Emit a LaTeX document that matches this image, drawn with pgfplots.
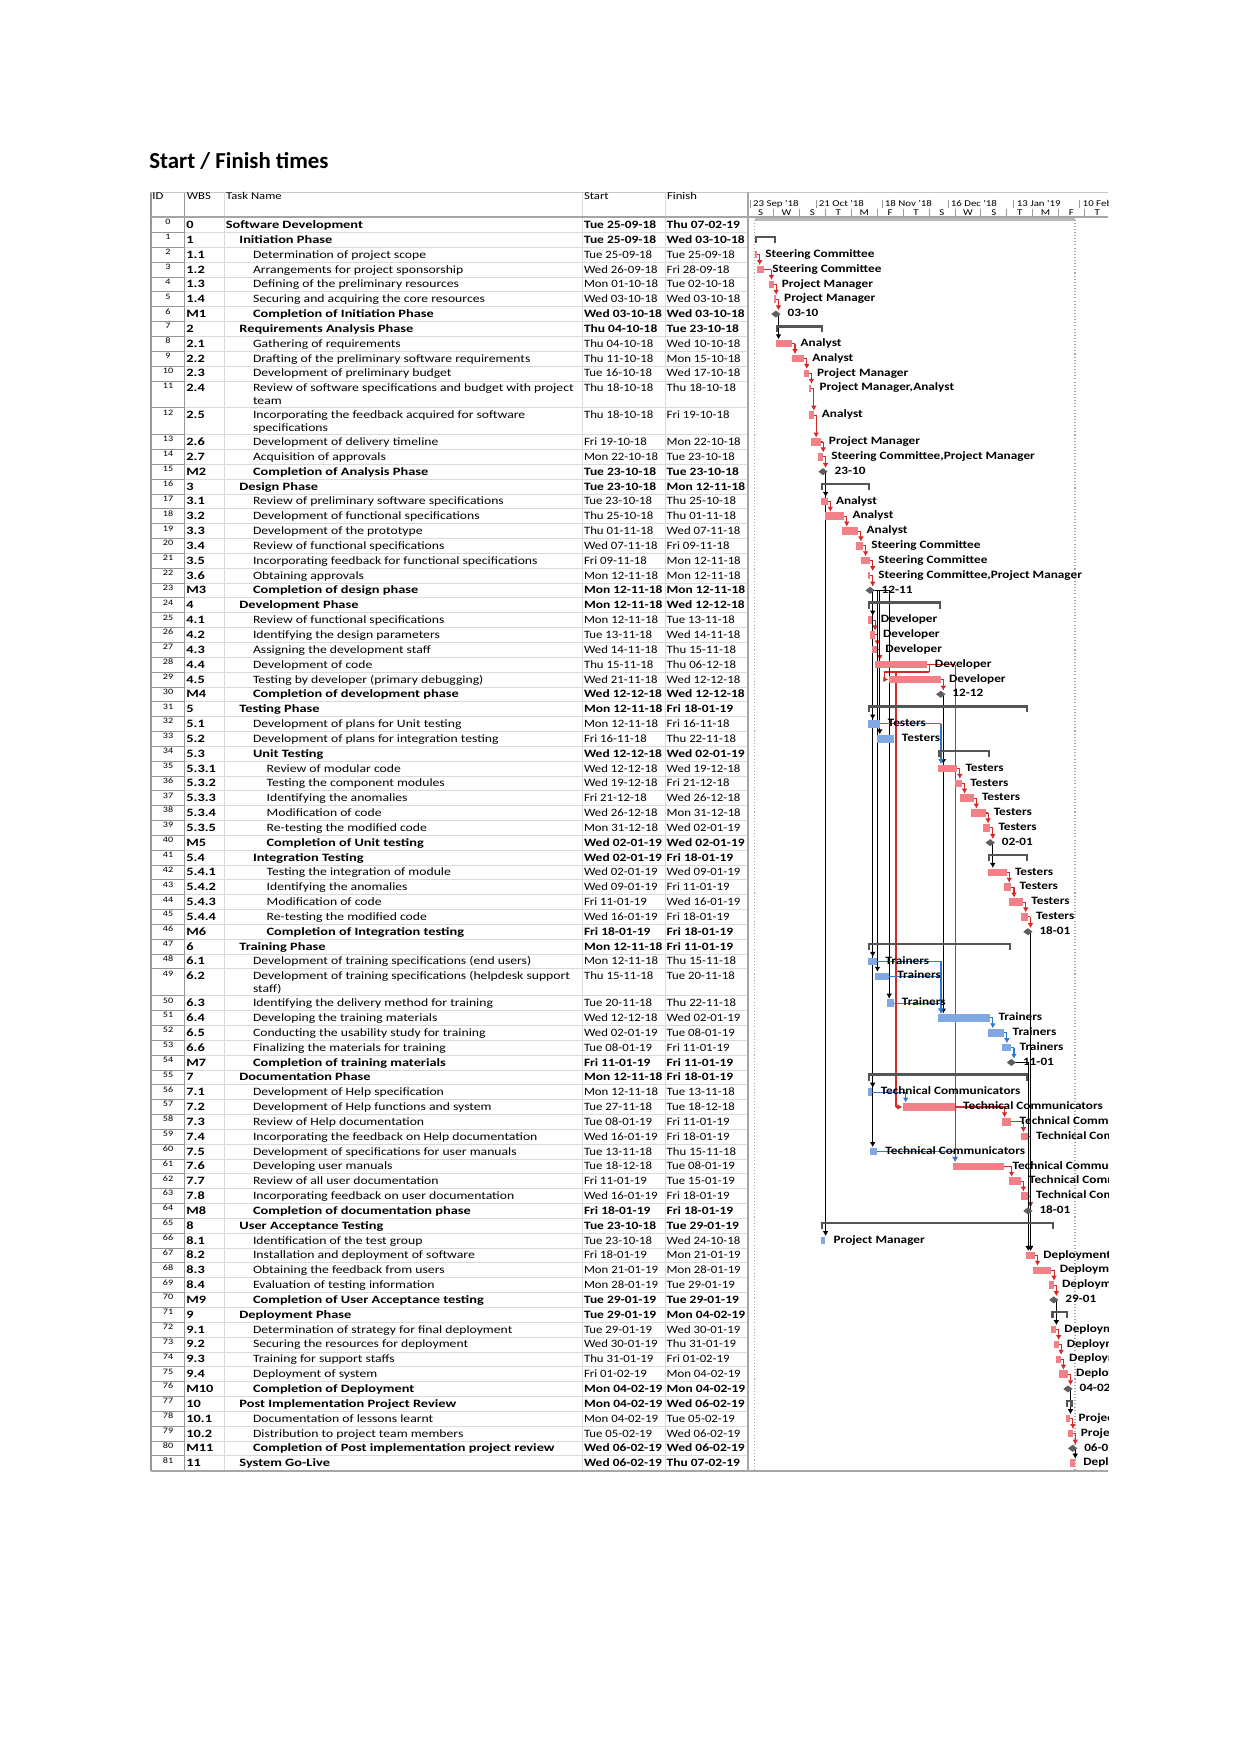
\documentclass[border=0pt]{standalone}
\usepackage{fontspec}
\setmainfont{Carlito}
\newfontfamily\namefont[FakeStretch=1.22]{Carlito}
\newfontfamily\namefontb[FakeStretch=1.28]{Carlito}
\newfontfamily\datefont[FakeStretch=1.14]{Carlito}
\newfontfamily\datefontb[FakeStretch=1.2]{Carlito}
\newfontfamily\barfont[FakeStretch=1.18]{Carlito}
\usepackage{pgfplots}
\usepackage{pgfplotstable}
\pgfplotsset{compat=1.18}
\usetikzlibrary{arrows.meta}

\definecolor{critbar}{RGB}{243,128,134}
\definecolor{normbar}{RGB}{128,168,226}
\definecolor{sumgray}{RGB}{85,85,85}
\definecolor{msgray}{RGB}{95,95,95}
\definecolor{linkred}{RGB}{215,40,40}
\definecolor{linkblue}{RGB}{45,120,210}
\definecolor{gridc}{RGB}{218,218,218}
\definecolor{idgrid}{RGB}{150,150,150}

\newcommand\fnn{\namefont\fontsize{5.4}{6}\selectfont}
\newcommand\fnb{\namefontb\fontsize{5.4}{6}\selectfont\bfseries}
\newcommand\fdn{\datefont\fontsize{5.4}{6}\selectfont}
\newcommand\fdb{\datefontb\fontsize{5.4}{6}\selectfont\bfseries}
\newcommand\fid{\namefont\fontsize{4}{5}\selectfont}
\newcommand\fhd{\namefont\fontsize{5}{6}\selectfont}
\newcommand\fgh{\namefont\fontsize{4.3}{5}\selectfont}
\newcommand\fbar{\barfont\fontsize{5.4}{6}\selectfont\bfseries}

% one table row: pos, id, wbs, level, n/b, name, start, finish
\newcommand\trow[8]{%
  \node[anchor=base, inner sep=0, font=\fid] at (168,{225+14.84*#1}) {#2};
  \node[anchor=base west, inner sep=0, font=\fnb] at (186,{228.6+14.84*#1}) {#3};
  \node[anchor=base west, inner sep=0, font=\csname fn#5\endcsname] at ({225.4+13.6*#4},{228.6+14.84*#1}) {#6};
  \node[anchor=base west, inner sep=0, font=\csname fd#5\endcsname] at (583.6,{228.6+14.84*#1}) {#7};
  \node[anchor=base west, inner sep=0, font=\csname fd#5\endcsname] at (666.3,{228.6+14.84*#1}) {#8};}
\newcommand\tcont[2]{%
  \node[anchor=base west, inner sep=0, font=\fnn] at (252.6,{241.2+14.84*#1}) {#2};}

% day numbers counted from Sun 23-09-18; y = row position
\pgfplotstableread[col sep=semicolon]{
s;f;y;lab
2;2;2;Steering Committee
3;5;3;Steering Committee
8;9;4;Project Manager
10;10;5;Project Manager
11;17;8;Analyst
18;22;9;Analyst
23;24;10;Project Manager
25;25;11;Project Manager,Analyst
25;26;12.81;Analyst
26;29;14.62;Project Manager
29;30;15.62;Steering Committee,Project Manager
30;32;18.62;Analyst
32;39;19.62;Analyst
39;45;20.62;Analyst
45;47;21.62;Steering Committee
47;50;22.62;Steering Committee
50;50;23.62;Steering Committee,Project Manager
50;51;26.62;Developer
51;52;27.62;Developer
52;53;28.62;Developer
53;74;29.62;Developer
59;80;30.62;Developer
80;87;36.62;Testers
87;89;37.62;Testers
89;94;38.62;Testers
94;99;39.62;Testers
99;101;40.62;Testers
101;108;43.62;Testers
108;110;44.62;Testers
110;115;45.62;Testers
115;117;46.62;Testers
65;86;59.43;Technical Communicators
107;110;60.43;Technical Communicators
115;117;61.43;Technical Communicators
86;107;63.43;Technical Communicators
110;114;64.43;Technical Communicators
115;117;65.43;Technical Communicators
117;120;69.43;Deployment Team
120;127;70.43;Deployment Team
127;128;71.43;Deployment Team
128;129;74.43;Deployment Team
129;130;75.43;Deployment Team
130;131;76.43;Deployment Team
131;134;77.43;Deployment Team
134;135;80.43;Project Manager
135;136;81.43;Project Manager
136;137;83.43;Deployment Team
}\crit

\pgfplotstableread[col sep=semicolon]{
s;f;y;lab
50;54;33.62;Testers
54;60;34.62;Testers
50;53;49.62;Trainers
53;58;50.62;Trainers
58;60;52.43;Trainers
80;101;53.43;Trainers
101;107;54.43;Trainers
107;110;55.43;Trainers
50;51;58.43;Technical Communicators
51;53;62.43;Technical Communicators
30;31;68.43;Project Manager
}\noncrit

\pgfplotstableread[col sep=semicolon]{
x;y;lab
11;6;03-10
31;16.62;23-10
51;24.62;12-11
81;31.62;12-12
102;41.62;02-01
118;47.62;18-01
111;56.43;11-01
118;66.43;18-01
129;72.43;29-01
135;78.43;04-02
137;82.43;06-02
}\mile

\pgfplotstableread{
s e y
2 11 1
11 31 7
30 51 17.62
50 81 25.62
50 118 32.62
80 102 35.62
101 118 42.62
50 111 48.62
50 118 57.43
30 129 67.43
128 135 73.43
134 137 79.43
}\summ

\pgfplotstableread{
s e y
2 138 -0.37
}\proj

% links: end of predecessor, its row, start of successor, arrow tip row
\pgfplotstableread{
x0 y0 xs y1
3 2 3 2.7
6 3 8 3.7
10 4 10 4.7
11 5 11 5.75
18 8 18 8.7
23 9 23 9.7
25 10 25 10.7
26 11 25 12.51
27 12.81 26 14.32
30 14.62 29 15.32
31 15.62 31 16.37
33 18.62 32 19.32
40 19.62 39 20.32
46 20.62 45 21.32
48 21.62 47 22.32
51 22.62 50 23.32
51 23.62 51 24.37
52 26.62 51 27.32
53 27.62 52 28.32
54 28.62 53 29.32
81 30.62 81 31.37
75 29.62 86 63.13
88 36.62 87 37.32
90 37.62 89 38.32
95 38.62 94 39.32
100 39.62 99 40.32
102 40.62 102 41.37
109 43.62 108 44.32
111 44.62 110 45.32
116 45.62 115 46.32
118 46.62 118 47.37
87 59.43 107 60.13
111 60.43 115 61.13
118 61.43 118 66.18
108 63.43 110 64.13
115 64.43 115 65.13
118 65.43 118 66.18
121 69.43 120 70.13
128 70.43 127 71.13
129 71.43 129 72.18
130 74.43 129 75.13
131 75.43 130 76.13
132 76.43 131 77.13
135 77.43 135 78.18
136 80.43 135 81.13
137 81.43 137 82.18
}\lred

\pgfplotstableread{
x0 y0 xs y1
11 6 11 7.7
31 16.62 30 18.32
31 16.62 30 68.13
51 24.62 50 26.32
51 24.62 50 33.32
51 24.62 54 34.32
51 24.62 50 49.32
51 24.62 53 50.32
51 24.62 58 52.13
51 24.62 50 58.13
51 24.62 51 62.13
81 31.62 80 36.32
81 31.62 80 53.13
102 41.62 101 43.32
118 47.62 117 69.13
111 56.43 117 69.13
118 66.43 117 69.13
129 72.43 128 74.13
135 78.43 134 80.13
137 82.43 136 83.13
}\lblack

\pgfplotstableread{
x0 y0 xs y1
55 33.62 80 36.32
54 49.62 80 53.13
59 50.62 80 53.13
61 52.43 80 53.13
102 53.43 101 54.13
108 54.43 107 55.13
111 55.43 111 56.18
52 58.43 65 59.13
54 62.43 86 63.13
}\lblue

% the start-to-start style links out of task 4.4
\pgfplotstableread{
x y u v
75 29.62 1.1 0
76.1 29.62 0 0.5
76.1 30.12 -19.1 0
57 30.12 0 0.5
62 30.12 0 29.31
}\lseg
\pgfplotstableread{
x y u v
57 30.62 1.7 0
62 59.43 2.7 0
}\ltip

\begin{document}
\begin{tikzpicture}
\begin{scope}[x=0.01692184cm, y=-0.01692184cm]
\fill[white] (0,0) rectangle (1241,1754);
\node[anchor=base west, inner sep=0, font=\fontsize{11}{13}\selectfont\bfseries] at (149,169) {Start / Finish times};

% grid of the table
\foreach \i in {1,...,81} {
  \pgfmathsetmacro\yy{225+14.84*(\i+0.81*(\i>11)+0.81*(\i>12)+0.81*(\i>49)-0.5)}
  \draw[gridc, line width=0.3pt] (184.8,\yy) -- (748,\yy);
  \draw[idgrid, line width=0.3pt] (151,\yy) -- (184.8,\yy);
}
\foreach \x in {224,582.5,665} \draw[gridc, line width=0.3pt] (\x,192) -- (\x,1471);
\draw[idgrid, line width=0.4pt] (184.8,192) -- (184.8,1471);
\draw[idgrid, line width=0.5pt] (151,192) -- (151,1471);
\draw[gray!45, line width=0.3pt] (151,192) -- (1108,192);
\draw[gray!70, line width=0.5pt] (151,217) -- (1108,217);
\draw[gray!70, line width=0.5pt] (151,1471) -- (1108,1471);
\draw[gray!70, line width=0.5pt] (748,192) -- (748,1471);

% header
\foreach \x/\t in {152/ID,186.5/WBS,225.8/Task Name,583.6/Start,666.7/Finish}
  \node[anchor=base west, inner sep=0, font=\fhd] at (\x,200) {\t};
\begin{scope}
\clip (748.5,190) rectangle (1108,216.5);
\foreach \d/\t in {0/{23 Sep '18},28/{21 Oct '18},56/{18 Nov '18},84/{16 Dec '18},112/{13 Jan '19},140/{10 Feb '19}} {
  \draw[gray!80, line width=0.3pt] ({750+2.355*\d},200) -- ({750+2.355*\d},208);
  \node[anchor=base west, inner sep=0, font=\fgh] at ({752.6+2.355*\d},207) {\t};
}
\foreach \k/\l in {0/S,1/W,2/S,3/T,4/M,5/F,6/T,7/S,8/W,9/S,10/T,11/M,12/F,13/T} {
  \draw[gray!80, line width=0.3pt] ({750+2.355*(-1+11*\k)},209) -- ++(0,8);
  \node[anchor=base, inner sep=0, font=\fgh] at ({750+2.355*(4.5+11*\k)},215.3) {\l};
}
\end{scope}

% table body
\trow{0}{0}{0}{0}{b}{Software Development}{Tue 25-09-18}{Thu 07-02-19}
\trow{1}{1}{1}{1}{b}{Initiation Phase}{Tue 25-09-18}{Wed 03-10-18}
\trow{2}{2}{1.1}{2}{n}{Determination of project scope}{Tue 25-09-18}{Tue 25-09-18}
\trow{3}{3}{1.2}{2}{n}{Arrangements for project sponsorship}{Wed 26-09-18}{Fri 28-09-18}
\trow{4}{4}{1.3}{2}{n}{Defining of the preliminary resources}{Mon 01-10-18}{Tue 02-10-18}
\trow{5}{5}{1.4}{2}{n}{Securing and acquiring the core resources}{Wed 03-10-18}{Wed 03-10-18}
\trow{6}{6}{M1}{2}{b}{Completion of Initiation Phase}{Wed 03-10-18}{Wed 03-10-18}
\trow{7}{7}{2}{1}{b}{Requirements Analysis Phase}{Thu 04-10-18}{Tue 23-10-18}
\trow{8}{8}{2.1}{2}{n}{Gathering of requirements}{Thu 04-10-18}{Wed 10-10-18}
\trow{9}{9}{2.2}{2}{n}{Drafting of the preliminary software requirements}{Thu 11-10-18}{Mon 15-10-18}
\trow{10}{10}{2.3}{2}{n}{Development of preliminary budget}{Tue 16-10-18}{Wed 17-10-18}
\trow{11}{11}{2.4}{2}{n}{Review of software specifications and budget with project}{Thu 18-10-18}{Thu 18-10-18}
\tcont{11}{team}
\trow{12.81}{12}{2.5}{2}{n}{Incorporating the feedback acquired for software}{Thu 18-10-18}{Fri 19-10-18}
\tcont{12.81}{specifications}
\trow{14.62}{13}{2.6}{2}{n}{Development of delivery timeline}{Fri 19-10-18}{Mon 22-10-18}
\trow{15.62}{14}{2.7}{2}{n}{Acquisition of approvals}{Mon 22-10-18}{Tue 23-10-18}
\trow{16.62}{15}{M2}{2}{b}{Completion of Analysis Phase}{Tue 23-10-18}{Tue 23-10-18}
\trow{17.62}{16}{3}{1}{b}{Design Phase}{Tue 23-10-18}{Mon 12-11-18}
\trow{18.62}{17}{3.1}{2}{n}{Review of preliminary software specifications}{Tue 23-10-18}{Thu 25-10-18}
\trow{19.62}{18}{3.2}{2}{n}{Development of functional specifications}{Thu 25-10-18}{Thu 01-11-18}
\trow{20.62}{19}{3.3}{2}{n}{Development of the prototype}{Thu 01-11-18}{Wed 07-11-18}
\trow{21.62}{20}{3.4}{2}{n}{Review of functional specifications}{Wed 07-11-18}{Fri 09-11-18}
\trow{22.62}{21}{3.5}{2}{n}{Incorporating feedback for functional specifications}{Fri 09-11-18}{Mon 12-11-18}
\trow{23.62}{22}{3.6}{2}{n}{Obtaining approvals}{Mon 12-11-18}{Mon 12-11-18}
\trow{24.62}{23}{M3}{2}{b}{Completion of design phase}{Mon 12-11-18}{Mon 12-11-18}
\trow{25.62}{24}{4}{1}{b}{Development Phase}{Mon 12-11-18}{Wed 12-12-18}
\trow{26.62}{25}{4.1}{2}{n}{Review of functional specifications}{Mon 12-11-18}{Tue 13-11-18}
\trow{27.62}{26}{4.2}{2}{n}{Identifying the design parameters}{Tue 13-11-18}{Wed 14-11-18}
\trow{28.62}{27}{4.3}{2}{n}{Assigning the development staff}{Wed 14-11-18}{Thu 15-11-18}
\trow{29.62}{28}{4.4}{2}{n}{Development of code}{Thu 15-11-18}{Thu 06-12-18}
\trow{30.62}{29}{4.5}{2}{n}{Testing by developer (primary debugging)}{Wed 21-11-18}{Wed 12-12-18}
\trow{31.62}{30}{M4}{2}{b}{Completion of development phase}{Wed 12-12-18}{Wed 12-12-18}
\trow{32.62}{31}{5}{1}{b}{Testing Phase}{Mon 12-11-18}{Fri 18-01-19}
\trow{33.62}{32}{5.1}{2}{n}{Development of plans for Unit testing}{Mon 12-11-18}{Fri 16-11-18}
\trow{34.62}{33}{5.2}{2}{n}{Development of plans for integration testing}{Fri 16-11-18}{Thu 22-11-18}
\trow{35.62}{34}{5.3}{2}{b}{Unit Testing}{Wed 12-12-18}{Wed 02-01-19}
\trow{36.62}{35}{5.3.1}{3}{n}{Review of modular code}{Wed 12-12-18}{Wed 19-12-18}
\trow{37.62}{36}{5.3.2}{3}{n}{Testing the component modules}{Wed 19-12-18}{Fri 21-12-18}
\trow{38.62}{37}{5.3.3}{3}{n}{Identifying the anomalies}{Fri 21-12-18}{Wed 26-12-18}
\trow{39.62}{38}{5.3.4}{3}{n}{Modification of code}{Wed 26-12-18}{Mon 31-12-18}
\trow{40.62}{39}{5.3.5}{3}{n}{Re-testing the modified code}{Mon 31-12-18}{Wed 02-01-19}
\trow{41.62}{40}{M5}{3}{b}{Completion of Unit testing}{Wed 02-01-19}{Wed 02-01-19}
\trow{42.62}{41}{5.4}{2}{b}{Integration Testing}{Wed 02-01-19}{Fri 18-01-19}
\trow{43.62}{42}{5.4.1}{3}{n}{Testing the integration of module}{Wed 02-01-19}{Wed 09-01-19}
\trow{44.62}{43}{5.4.2}{3}{n}{Identifying the anomalies}{Wed 09-01-19}{Fri 11-01-19}
\trow{45.62}{44}{5.4.3}{3}{n}{Modification of code}{Fri 11-01-19}{Wed 16-01-19}
\trow{46.62}{45}{5.4.4}{3}{n}{Re-testing the modified code}{Wed 16-01-19}{Fri 18-01-19}
\trow{47.62}{46}{M6}{3}{b}{Completion of Integration testing}{Fri 18-01-19}{Fri 18-01-19}
\trow{48.62}{47}{6}{1}{b}{Training Phase}{Mon 12-11-18}{Fri 11-01-19}
\trow{49.62}{48}{6.1}{2}{n}{Development of training specifications (end users)}{Mon 12-11-18}{Thu 15-11-18}
\trow{50.62}{49}{6.2}{2}{n}{Development of training specifications (helpdesk support}{Thu 15-11-18}{Tue 20-11-18}
\tcont{50.62}{staff)}
\trow{52.43}{50}{6.3}{2}{n}{Identifying the delivery method for training}{Tue 20-11-18}{Thu 22-11-18}
\trow{53.43}{51}{6.4}{2}{n}{Developing the training materials}{Wed 12-12-18}{Wed 02-01-19}
\trow{54.43}{52}{6.5}{2}{n}{Conducting the usability study for training}{Wed 02-01-19}{Tue 08-01-19}
\trow{55.43}{53}{6.6}{2}{n}{Finalizing the materials for training}{Tue 08-01-19}{Fri 11-01-19}
\trow{56.43}{54}{M7}{2}{b}{Completion of training materials}{Fri 11-01-19}{Fri 11-01-19}
\trow{57.43}{55}{7}{1}{b}{Documentation Phase}{Mon 12-11-18}{Fri 18-01-19}
\trow{58.43}{56}{7.1}{2}{n}{Development of Help specification}{Mon 12-11-18}{Tue 13-11-18}
\trow{59.43}{57}{7.2}{2}{n}{Development of Help functions and system}{Tue 27-11-18}{Tue 18-12-18}
\trow{60.43}{58}{7.3}{2}{n}{Review of Help documentation}{Tue 08-01-19}{Fri 11-01-19}
\trow{61.43}{59}{7.4}{2}{n}{Incorporating the feedback on Help documentation}{Wed 16-01-19}{Fri 18-01-19}
\trow{62.43}{60}{7.5}{2}{n}{Development of specifications for user manuals}{Tue 13-11-18}{Thu 15-11-18}
\trow{63.43}{61}{7.6}{2}{n}{Developing user manuals}{Tue 18-12-18}{Tue 08-01-19}
\trow{64.43}{62}{7.7}{2}{n}{Review of all user documentation}{Fri 11-01-19}{Tue 15-01-19}
\trow{65.43}{63}{7.8}{2}{n}{Incorporating feedback on user documentation}{Wed 16-01-19}{Fri 18-01-19}
\trow{66.43}{64}{M8}{2}{b}{Completion of documentation phase}{Fri 18-01-19}{Fri 18-01-19}
\trow{67.43}{65}{8}{1}{b}{User Acceptance Testing}{Tue 23-10-18}{Tue 29-01-19}
\trow{68.43}{66}{8.1}{2}{n}{Identification of the test group}{Tue 23-10-18}{Wed 24-10-18}
\trow{69.43}{67}{8.2}{2}{n}{Installation and deployment of software}{Fri 18-01-19}{Mon 21-01-19}
\trow{70.43}{68}{8.3}{2}{n}{Obtaining the feedback from users}{Mon 21-01-19}{Mon 28-01-19}
\trow{71.43}{69}{8.4}{2}{n}{Evaluation of testing information}{Mon 28-01-19}{Tue 29-01-19}
\trow{72.43}{70}{M9}{2}{b}{Completion of User Acceptance testing}{Tue 29-01-19}{Tue 29-01-19}
\trow{73.43}{71}{9}{1}{b}{Deployment Phase}{Tue 29-01-19}{Mon 04-02-19}
\trow{74.43}{72}{9.1}{2}{n}{Determination of strategy for final deployment}{Tue 29-01-19}{Wed 30-01-19}
\trow{75.43}{73}{9.2}{2}{n}{Securing the resources for deployment}{Wed 30-01-19}{Thu 31-01-19}
\trow{76.43}{74}{9.3}{2}{n}{Training for support staffs}{Thu 31-01-19}{Fri 01-02-19}
\trow{77.43}{75}{9.4}{2}{n}{Deployment of system}{Fri 01-02-19}{Mon 04-02-19}
\trow{78.43}{76}{M10}{2}{b}{Completion of Deployment}{Mon 04-02-19}{Mon 04-02-19}
\trow{79.43}{77}{10}{1}{b}{Post Implementation Project Review}{Mon 04-02-19}{Wed 06-02-19}
\trow{80.43}{78}{10.1}{2}{n}{Documentation of lessons learnt}{Mon 04-02-19}{Tue 05-02-19}
\trow{81.43}{79}{10.2}{2}{n}{Distribution to project team members}{Tue 05-02-19}{Wed 06-02-19}
\trow{82.43}{80}{M11}{2}{b}{Completion of Post implementation project review}{Wed 06-02-19}{Wed 06-02-19}
\trow{83.43}{81}{11}{1}{b}{System Go-Live}{Wed 06-02-19}{Thu 07-02-19}
\end{scope}

\begin{axis}[
  at={(12.6575cm,-3.6720cm)}, anchor=north west,
  scale only axis, width=6.0918cm, height=21.2200cm,
  xmin=-0.85, xmax=152.02, ymin=-0.54, ymax=83.96, y dir=reverse,
  hide axis, clip marker paths=true,
  lbl/.style={only marks, mark=none, nodes near coords, point meta=explicit symbolic,
    nodes near coords style={font=\fbar, anchor=base west, inner sep=0, xshift=3.8pt, yshift=-1.3pt}},
]
% project summary bar and its dotted limits
\addplot[gray!55, line width=1.4pt, quiver={u=\thisrow{e}-\thisrow{s}, v=0}] table[x=s, y=y] {\proj};
\addplot[gray!70, densely dotted, line width=0.5pt, quiver={u=0, v=84.4}] table[x=s, y=y] {\proj};
\addplot[gray!70, densely dotted, line width=0.5pt, quiver={u=0, v=84.4}] table[x=e, y=y] {\proj};

% links
\addplot[linkred, line width=0.5pt, quiver={u={max(\thisrow{x0},\thisrow{xs})+1.1-\thisrow{x0}}, v=0}] table[x=x0, y=y0] {\lred};
\addplot[linkred, line width=0.5pt, -{Latex[length=2.4pt,width=2.8pt]}, quiver={u=0, v=\thisrow{y1}-\thisrow{y0}}] table[x expr={max(\thisrow{x0},\thisrow{xs})+1.1}, y=y0] {\lred};
\addplot[linkred, line width=0.5pt, quiver={u=\thisrow{u}, v=\thisrow{v}}] table[x=x, y=y] {\lseg};
\addplot[linkred, line width=0.5pt, -{Latex[length=2.4pt,width=2.8pt]}, quiver={u=\thisrow{u}, v=\thisrow{v}}] table[x=x, y=y] {\ltip};
\addplot[black, line width=0.5pt, quiver={u={max(\thisrow{x0},\thisrow{xs})+1.1-\thisrow{x0}}, v=0}] table[x=x0, y=y0] {\lblack};
\addplot[black, line width=0.5pt, -{Latex[length=2.4pt,width=2.8pt]}, quiver={u=0, v=\thisrow{y1}-\thisrow{y0}}] table[x expr={max(\thisrow{x0},\thisrow{xs})+1.1}, y=y0] {\lblack};
\addplot[linkblue, line width=0.5pt, quiver={u={max(\thisrow{x0},\thisrow{xs})+1.1-\thisrow{x0}}, v=0}] table[x=x0, y=y0] {\lblue};
\addplot[linkblue, line width=0.5pt, -{Latex[length=2.4pt,width=2.8pt]}, quiver={u=0, v=\thisrow{y1}-\thisrow{y0}}] table[x expr={max(\thisrow{x0},\thisrow{xs})+1.1}, y=y0] {\lblue};

% summary brackets
\addplot[sumgray, line width=1.25pt, quiver={u=\thisrow{e}-\thisrow{s}, v=0}] table[x=s, y expr=\thisrow{y}-0.18] {\summ};
\addplot[sumgray, line width=1.1pt, quiver={u=0, v=0.47}] table[x expr=\thisrow{s}+0.47, y expr=\thisrow{y}-0.25] {\summ};
\addplot[sumgray, line width=1.1pt, quiver={u=0, v=0.47}] table[x expr=\thisrow{e}-0.47, y expr=\thisrow{y}-0.25] {\summ};

% task bars
\addplot[critbar, line width=3.6pt, quiver={u=\thisrow{f}+1-\thisrow{s}, v=0}] table[x=s, y=y] {\crit};
\addplot[normbar, line width=3.6pt, quiver={u=\thisrow{f}+1-\thisrow{s}, v=0}] table[x=s, y=y] {\noncrit};

% labels
\addplot[lbl] table[x expr=\thisrow{f}+1, y=y, meta=lab] {\crit};
\addplot[lbl] table[x expr=\thisrow{f}+1, y=y, meta=lab] {\noncrit};

% milestones
\addplot[only marks, mark=diamond*, mark size=1.9pt, mark options={rotate=90, fill=msgray, draw=msgray},
  nodes near coords, point meta=explicit symbolic,
  nodes near coords style={font=\fbar, anchor=base west, inner sep=0, xshift=5.4pt, yshift=-1.3pt}]
  table[x=x, y=y, meta=lab] {\mile};
\end{axis}
\end{tikzpicture}
\end{document}
